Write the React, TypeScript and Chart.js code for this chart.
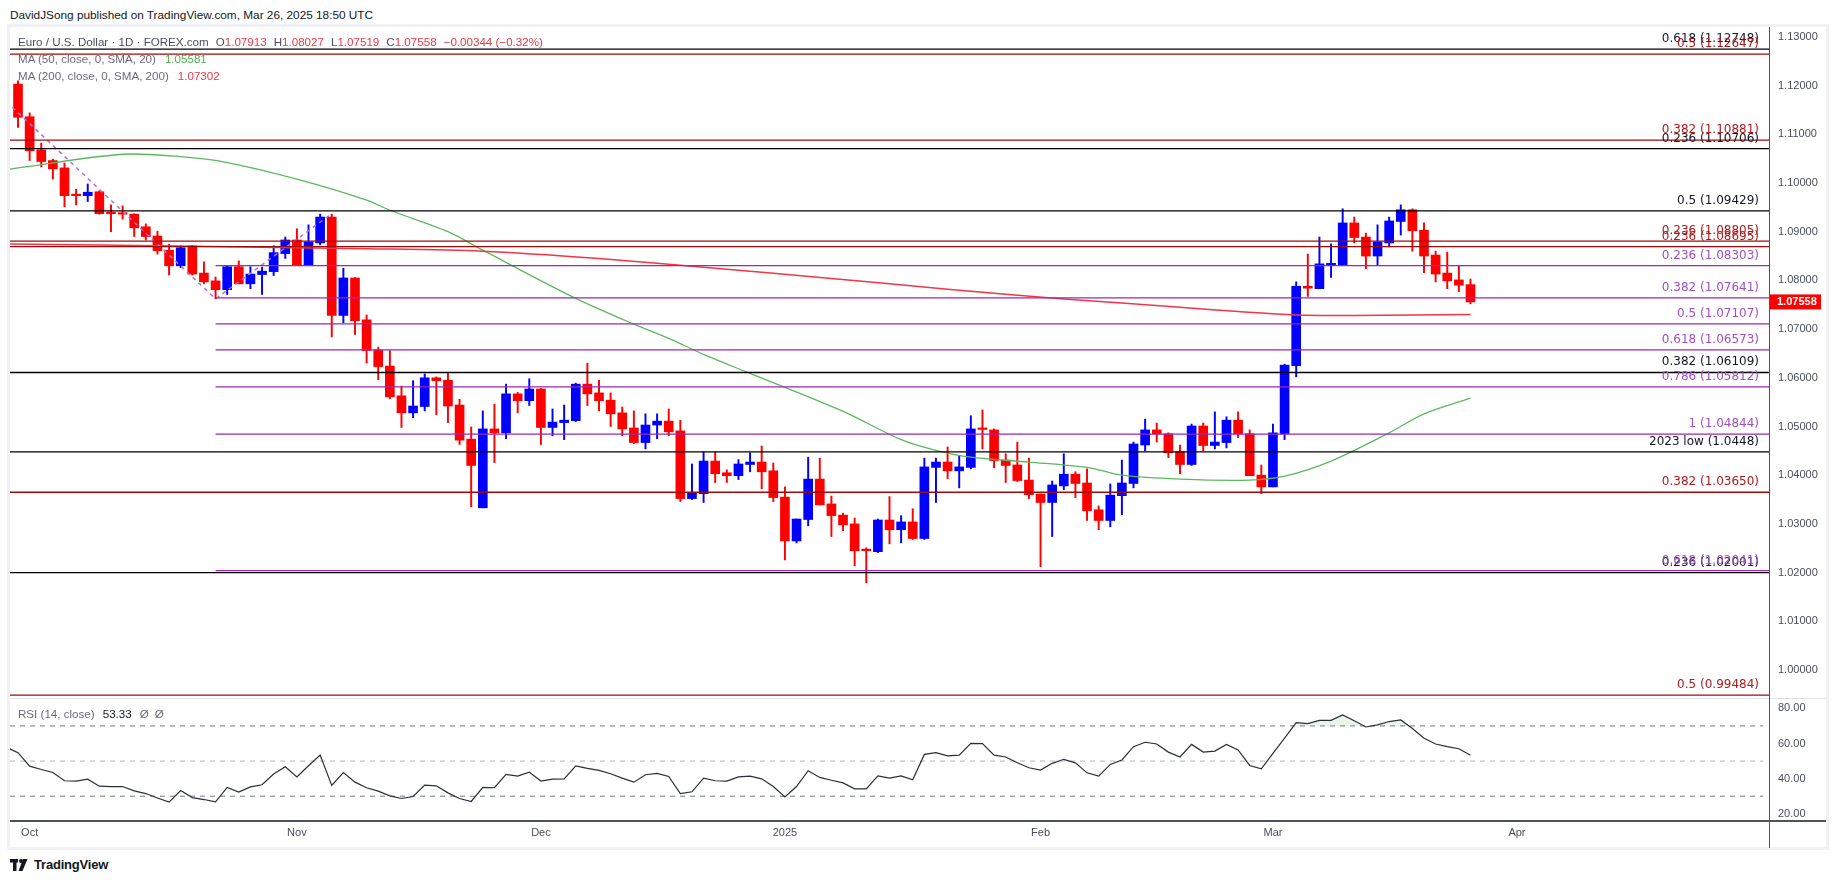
import React, { useEffect, useRef } from 'react';
import { Chart, registerables } from 'chart.js';

Chart.register(...registerables);

// ---------- data ----------
// bar index 0 = Sep 30 2024 ... 125 = Mar 26 2025 (trading days)
const opens = [1.1203,1.1136,1.1068,1.1046,1.1031,1.0976,1.0974,1.0982,1.0940,1.0939,
1.0936,1.0910,1.0891,1.0862,1.0830,1.0871,1.0815,1.0799,1.0781,1.0828,
1.0793,1.0812,1.0818,1.0855,1.0883,1.0832,1.0877,1.0930,1.0728,1.0805,
1.0719,1.0657,1.0624,1.0563,1.0528,1.0541,1.0600,1.0595,1.0544,1.0474,
1.0333,1.0495,1.0487,1.0567,1.0553,1.0577,1.0498,1.0508,1.0512,1.0587,
1.0569,1.0554,1.0528,1.0497,1.0467,1.0503,1.0511,1.0491,1.0352,1.0362,
1.0429,1.0405,1.0399,1.0422,1.0427,1.0409,1.0355,1.0265,1.0309,1.0392,
1.0341,1.0318,1.0300,1.0247,1.0243,1.0308,1.0288,1.0304,1.0270,1.0416,
1.0427,1.0409,1.0416,1.0496,1.0493,1.0431,1.0421,1.0390,1.0361,1.0344,
1.0378,1.0402,1.0384,1.0329,1.0307,1.0358,1.0383,1.0462,1.0493,1.0485,
1.0448,1.0422,1.0501,1.0461,1.0467,1.0513,1.0485,1.0400,1.0376,1.0485,
1.0625,1.0788,1.0783,1.0832,1.0832,1.0918,1.0889,1.0850,1.0877,1.0921,
1.0945,1.0903,1.0852,1.0815,1.0801,1.07913];

const highs = [1.1210,1.1144,1.1082,1.1049,1.1041,1.0987,1.0998,1.0984,1.0955,1.0953,
1.0937,1.0916,1.0901,1.0874,1.0871,1.0872,1.0838,1.0807,1.0830,1.0840,
1.0828,1.0827,1.0871,1.0889,1.0906,1.0914,1.0936,1.0936,1.0825,1.0806,
1.0729,1.0663,1.0656,1.0583,1.0594,1.0608,1.0602,1.0610,1.0556,1.0499,
1.0532,1.0546,1.0587,1.0570,1.0598,1.0578,1.0536,1.0544,1.0589,1.0630,
1.0595,1.0569,1.0540,1.0532,1.0526,1.0526,1.0536,1.0513,1.0423,1.0448,
1.0448,1.0411,1.0432,1.0446,1.0460,1.0425,1.0376,1.0310,1.0437,1.0435,
1.0357,1.0322,1.0312,1.0251,1.0310,1.0356,1.0317,1.0331,1.0435,1.0435,
1.0458,1.0439,1.0522,1.0534,1.0495,1.0444,1.0468,1.0435,1.0362,1.0388,
1.0444,1.0407,1.0413,1.0337,1.0382,1.0431,1.0468,1.0515,1.0507,1.0487,
1.0462,1.0505,1.0507,1.0530,1.0520,1.0530,1.0493,1.0421,1.0505,1.0628,
1.0797,1.0854,1.0889,1.0875,1.0947,1.0930,1.0897,1.0914,1.0930,1.0955,
1.0947,1.0918,1.0860,1.0858,1.0829,1.08027];

const lows = [1.1114,1.1046,1.1033,1.1008,1.0951,1.0955,1.0962,1.0936,1.0900,1.0926,
1.0890,1.0883,1.0854,1.0811,1.0826,1.0811,1.0793,1.0762,1.0771,1.0793,
1.0783,1.0771,1.0810,1.0845,1.0832,1.0832,1.0873,1.0684,1.0713,1.0689,
1.0630,1.0596,1.0557,1.0498,1.0518,1.0532,1.0524,1.0508,1.0463,1.0335,
1.0333,1.0426,1.0475,1.0528,1.0543,1.0463,1.0481,1.0473,1.0510,1.0543,
1.0532,1.0500,1.0481,1.0465,1.0454,1.0475,1.0481,1.0346,1.0350,1.0344,
1.0385,1.0385,1.0391,1.0407,1.0372,1.0346,1.0226,1.0261,1.0296,1.0339,
1.0274,1.0286,1.0214,1.0179,1.0241,1.0259,1.0261,1.0268,1.0268,1.0344,
1.0393,1.0374,1.0413,1.0454,1.0415,1.0385,1.0387,1.0352,1.0212,1.0274,
1.0370,1.0354,1.0307,1.0288,1.0294,1.0319,1.0374,1.0450,1.0468,1.0436,
1.0403,1.0420,1.0450,1.0454,1.0456,1.0477,1.0399,1.0362,1.0376,1.0473,
1.0602,1.0767,1.0783,1.0806,1.0832,1.0877,1.0824,1.0832,1.0869,1.0893,
1.0860,1.0816,1.0797,1.0783,1.0777,1.07519];

const closes = [1.1135,1.1066,1.1044,1.1029,1.0974,1.0974,1.0981,1.0937,1.0937,1.0936,
1.0908,1.0890,1.0861,1.0830,1.0867,1.0813,1.0797,1.0781,1.0828,1.0793,
1.0813,1.0819,1.0857,1.0883,1.0832,1.0879,1.0930,1.0728,1.0805,1.0717,
1.0656,1.0623,1.0561,1.0528,1.0542,1.0600,1.0594,1.0542,1.0472,1.0420,
1.0495,1.0487,1.0567,1.0553,1.0577,1.0498,1.0509,1.0513,1.0587,1.0567,
1.0553,1.0526,1.0495,1.0467,1.0503,1.0511,1.0489,1.0352,1.0364,1.0429,
1.0403,1.0399,1.0423,1.0427,1.0407,1.0354,1.0265,1.0310,1.0392,1.0339,
1.0317,1.0298,1.0245,1.0245,1.0308,1.0288,1.0304,1.0270,1.0417,1.0427,
1.0409,1.0417,1.0495,1.0494,1.0430,1.0420,1.0389,1.0360,1.0344,1.0380,
1.0402,1.0383,1.0327,1.0307,1.0359,1.0384,1.0464,1.0493,1.0485,1.0446,
1.0422,1.0501,1.0461,1.0468,1.0513,1.0485,1.0399,1.0376,1.0487,1.0626,
1.0788,1.0784,1.0834,1.0834,1.0918,1.0888,1.0850,1.0879,1.0922,1.0945,
1.0902,1.0850,1.0813,1.0799,1.07902,1.07558];

// RSI(14) values, first value belongs to bar index -1
const rsiStartIdx = -1;
const rsiValues = [57.8,54.8,47.1,45.2,43.5,38.8,38.6,39.7,35.7,35.5,35.5,
33.0,31.5,29.0,26.6,33.2,29.2,28.1,26.8,35.0,32.3,
35.3,36.5,42.6,46.8,41.0,47.3,53.4,36.1,43.5,38.0,
34.8,32.9,30.2,28.7,29.8,36.3,35.9,31.9,28.7,27.0,
35.0,34.8,42.4,41.4,43.7,38.6,39.7,39.9,47.3,45.8,
44.7,42.8,40.3,38.0,42.2,43.0,41.2,31.5,32.5,40.3,
38.8,38.6,41.0,41.4,39.9,35.5,29.6,35.5,44.5,40.7,
39.1,37.6,34.2,34.2,41.6,40.3,41.6,39.3,53.8,54.8,
53.0,53.4,60.1,59.9,53.4,52.3,49.0,46.2,44.9,48.7,
51.0,49.0,43.3,41.4,48.1,50.6,58.2,60.7,59.7,55.1,
52.3,59.5,55.1,55.7,59.5,56.3,47.5,45.6,54.4,63.1,
71.9,71.3,73.2,73.2,76.3,72.9,69.4,70.6,72.5,73.4,
68.5,63.0,59.7,58.2,57.0,53.33];

// Moving averages read at sample bars
const ma50Idx = [-1,0,9,14,18,24,30,32,37,40,48,53,56,59,63,71,76,79,82,87,92,95,100,106,109,113,118,121,125];
const ma50Vals = [1.1027,1.1031,1.1059,1.1054,1.1042,1.1008,1.0965,1.0944,1.0900,1.0862,1.0763,1.0710,1.0681,1.0648,1.0609,1.0531,1.0473,1.0451,1.0437,1.0427,1.0416,1.0400,1.0392,1.0390,1.0398,1.0429,1.0487,1.0526,1.05581];
const ma200Idx = [-1,15,30,40,50,60,70,80,90,100,105,110,115,120,125];
const ma200Vals = [1.0875,1.0870,1.0865,1.0860,1.0845,1.0825,1.0804,1.0782,1.0762,1.0745,1.0736,1.0729,1.0728,1.0729,1.07302];

// Dashed swing trend line (bar index, price)
const trendIdx = [-3, 17, 27];
const trendPrices = [1.1212, 1.0762, 1.0937];

// Fibonacci / key levels
const blackFibPrices = [1.12748, 1.10706, 1.09429, 1.06109, 1.0448, 1.02001];
const blackFibLabels = ['0.618 (1.12748)', '0.236 (1.10706)', '0.5 (1.09429)', '0.382 (1.06109)', '2023 low (1.0448)', '0.236 (1.02001)'];
const redFibPrices = [1.12647, 1.10881, 1.08805, 1.08695, 1.0365, 0.99484];
const redFibLabels = ['0.5 (1.12647)', '0.382 (1.10881)', '0.236 (1.08805)', '0.236 (1.08695)', '0.382 (1.03650)', '0.5 (0.99484)'];
const purpleFibPrices = [1.08303, 1.07641, 1.07107, 1.06573, 1.05812, 1.04844, 1.02041];
const purpleFibLabels = ['0.236 (1.08303)', '0.382 (1.07641)', '0.5 (1.07107)', '0.618 (1.06573)', '0.786 (1.05812)', '1 (1.04844)', '0.618 (1.02041)'];
const purpleStartIdx = 17;

// Axis ticks
const priceTicks = [1.00,1.01,1.02,1.03,1.04,1.05,1.06,1.07,1.08,1.09,1.10,1.11,1.12,1.13];
const rsiTicks = [20, 40, 60, 80];
const rsiLevels = [70, 50, 30];
const monthTickIdx = [1, 24, 45, 66, 88, 108, 129];
const monthTickLabels = ['Oct', 'Nov', 'Dec', '2025', 'Feb', 'Mar', 'Apr'];

// ---------- view constants ----------
const X_MIN = -0.69;
const X_MAX = 150.69;
const Y_MIN = 0.99425;
const Y_MAX = 1.13203;
const RSI_MIN = 16.45;
const RSI_MAX = 85.9;
const UP = '#0000ff';
const DOWN = '#ff0000';
const FONT = '"Liberation Sans", Arial, sans-serif';
const AXIS_TEXT = '#4a4e59';

Chart.defaults.font.family = FONT;

const last = closes.length - 1;
const change = closes[last] - closes[last - 1];
const changePct = (change / closes[last - 1]) * 100;
const fmtSigned = (v: number, d: number) => (v < 0 ? '\u2212' : '+') + Math.abs(v).toFixed(d);

export default function App() {
  const mainRef = useRef<HTMLCanvasElement>(null);
  const rsiRef = useRef<HTMLCanvasElement>(null);

  useEffect(() => {
    document.body.style.margin = '0';
    const colors = closes.map((c, i) => (c >= opens[i] ? UP : DOWN));
    const wickData = opens.map((_, i) => ({ x: i, y: [lows[i], highs[i]] }));
    const bodyData = opens.map((o, i) => ({ x: i, y: [Math.min(o, closes[i]), Math.max(o, closes[i])] }));

    const groups = [
      { prices: blackFibPrices, labels: blackFibLabels, line: '#000000', text: '#131722', start: X_MIN },
      { prices: redFibPrices, labels: redFibLabels, line: '#9e0b0b', text: '#b0191b', start: X_MIN },
      { prices: purpleFibPrices, labels: purpleFibLabels, line: '#9c27b0', text: '#a24fc4', start: purpleStartIdx },
    ];

    const fibDatasets: any[] = [];
    groups.forEach((g) => {
      g.prices.forEach((p) => {
        fibDatasets.push({
          type: 'line',
          data: [{ x: g.start, y: p }, { x: X_MAX, y: p }],
          borderColor: g.line,
          borderWidth: 1.3,
          pointRadius: 0,
          order: 1,
        });
      });
    });

    const fibLabelPlugin = {
      id: 'fibLabels',
      afterDatasetsDraw(chart: any) {
        const { ctx, chartArea, scales } = chart;
        ctx.save();
        ctx.font = '12px "DejaVu Sans", sans-serif';
        ctx.textAlign = 'right';
        ctx.textBaseline = 'alphabetic';
        groups.forEach((g) => {
          g.prices.forEach((p, i) => {
            ctx.fillStyle = g.text;
            ctx.fillText(g.labels[i], chartArea.right - 10, scales.y.getPixelForValue(p) - 7);
          });
        });
        ctx.restore();
      },
      afterDraw(chart: any) {
        const { ctx, chartArea, scales } = chart;
        const y = scales.y.getPixelForValue(closes[last]);
        ctx.save();
        ctx.fillStyle = '#ff0000';
        ctx.fillRect(chartArea.right + 1, y - 7.5, 51, 15);
        ctx.fillStyle = '#ffffff';
        ctx.font = 'bold 11px ' + FONT;
        ctx.textAlign = 'left';
        ctx.textBaseline = 'middle';
        ctx.fillText(closes[last].toFixed(5), chartArea.right + 8, y + 0.5);
        ctx.restore();
      },
    };

    const main = new Chart(mainRef.current as HTMLCanvasElement, {
      type: 'bar',
      data: {
        datasets: [
          {
            type: 'bar',
            data: wickData as any,
            backgroundColor: colors,
            barThickness: 1.3,
            grouped: false,
            order: 10,
          } as any,
          {
            type: 'bar',
            data: bodyData as any,
            backgroundColor: colors,
            barThickness: 9,
            minBarLength: 1.5,
            grouped: false,
            order: 9,
          } as any,
          {
            type: 'line',
            data: ma200Idx.map((x, i) => ({ x, y: ma200Vals[i] })),
            borderColor: '#f23645',
            borderWidth: 1.5,
            pointRadius: 0,
            tension: 0.3,
            order: 5,
          },
          {
            type: 'line',
            data: ma50Idx.map((x, i) => ({ x, y: ma50Vals[i] })),
            borderColor: '#5cb85f',
            borderWidth: 1.3,
            pointRadius: 0,
            tension: 0.3,
            order: 5,
          },
          {
            type: 'line',
            data: trendIdx.map((x, i) => ({ x, y: trendPrices[i] })),
            borderColor: '#b66fd3',
            borderWidth: 1.5,
            borderDash: [4, 4],
            pointRadius: 0,
            order: 2,
          },
          ...fibDatasets,
        ],
      },
      options: {
        animation: false,
        responsive: false,
        events: [],
        layout: { padding: { left: 10, top: 27, right: 0, bottom: 22 } },
        plugins: { legend: { display: false }, tooltip: { enabled: false } },
        scales: {
          x: {
            type: 'linear',
            min: X_MIN,
            max: X_MAX,
            offset: false,
            display: false,
          },
          y: {
            type: 'linear',
            position: 'right',
            min: Y_MIN,
            max: Y_MAX,
            grid: { display: false, drawTicks: false },
            border: { display: false },
            afterBuildTicks: (axis: any) => {
              axis.ticks = priceTicks.map((v) => ({ value: v }));
            },
            afterFit: (axis: any) => {
              axis.width = 66;
            },
            ticks: {
              autoSkip: false,
              padding: 9,
              color: AXIS_TEXT,
              font: { size: 11, family: FONT },
              callback: (v: any) => Number(v).toFixed(5),
            },
          },
        },
      } as any,
      plugins: [fibLabelPlugin],
    });

    const rsiPoints = rsiValues.map((v, i) => ({ x: rsiStartIdx + i, y: v }));
    const levelColors = ['#787b86', '#b2b5be', '#787b86'];

    const rsi = new Chart(rsiRef.current as HTMLCanvasElement, {
      type: 'line',
      data: {
        datasets: [
          {
            data: rsiPoints,
            borderColor: '#2a2e39',
            borderWidth: 1.2,
            pointRadius: 0,
            fill: { target: { value: 70 }, above: 'rgba(76,175,80,0.13)', below: 'rgba(0,0,0,0)' },
            order: 1,
          },
          ...rsiLevels.map((lv, i) => ({
            data: [{ x: X_MIN, y: lv }, { x: X_MAX - 0.5, y: lv }],
            borderColor: levelColors[i],
            borderWidth: 1,
            borderDash: [5, 5],
            pointRadius: 0,
            fill: false,
            order: 2,
          })),
        ],
      },
      options: {
        animation: false,
        responsive: false,
        events: [],
        layout: { padding: { left: 10, top: 20, right: 0, bottom: 0 } },
        plugins: { legend: { display: false }, tooltip: { enabled: false } },
        scales: {
          x: {
            type: 'linear',
            min: X_MIN,
            max: X_MAX,
            offset: false,
            grid: { display: false, drawTicks: false },
            border: { display: false },
            afterBuildTicks: (axis: any) => {
              axis.ticks = monthTickIdx.map((v) => ({ value: v }));
            },
            afterFit: (axis: any) => {
              axis.height = 30;
            },
            ticks: {
              autoSkip: false,
              maxRotation: 0,
              padding: 6,
              color: AXIS_TEXT,
              font: { size: 11, family: FONT },
              callback: (v: any) => {
                const k = monthTickIdx.indexOf(Number(v));
                return k >= 0 ? monthTickLabels[k] : '';
              },
            },
          },
          y: {
            type: 'linear',
            position: 'right',
            min: RSI_MIN,
            max: RSI_MAX,
            grid: { display: false, drawTicks: false },
            border: { display: false },
            afterBuildTicks: (axis: any) => {
              axis.ticks = rsiTicks.map((v) => ({ value: v }));
            },
            afterFit: (axis: any) => {
              axis.width = 66;
            },
            ticks: {
              autoSkip: false,
              padding: 9,
              color: AXIS_TEXT,
              font: { size: 11, family: FONT },
              callback: (v: any) => Number(v).toFixed(2),
            },
          },
        },
      } as any,
    });

    return () => {
      main.destroy();
      rsi.destroy();
    };
  }, []);

  const red = '#f23645';
  const legendStyle: React.CSSProperties = {
    position: 'absolute',
    left: 18,
    fontFamily: FONT,
    fontSize: 11.6,
    lineHeight: '14px',
    whiteSpace: 'nowrap',
  };

  return (
    <div style={{ position: 'absolute', left: 0, top: 0, width: 1835, height: 883, background: '#ffffff', overflow: 'hidden' }}>
      <div style={{ position: 'absolute', left: 10, top: 8, fontFamily: FONT, fontSize: 11.8, lineHeight: '14px', color: '#131722', whiteSpace: 'nowrap' }}>
        DavidJSong published on TradingView.com, Mar 26, 2025 18:50 UTC
      </div>
      <div style={{ position: 'absolute', left: 7, top: 24, width: 1822, height: 826, boxSizing: 'border-box', border: '3px solid #eff1f5' }} />
      <canvas ref={mainRef} width={1835} height={720} style={{ position: 'absolute', left: 0, top: 0 }} />
      <canvas ref={rsiRef} width={1835} height={172} style={{ position: 'absolute', left: 0, top: 678 }} />
      <div style={{ position: 'absolute', left: 10, top: 698, width: 1816, height: 1, background: '#e0e3eb' }} />
      <div style={{ position: 'absolute', left: 10, top: 820, width: 1816, height: 1.5, background: '#50535e' }} />
      <div style={{ position: 'absolute', left: 1768.5, top: 27, width: 1, height: 821, background: '#50535e' }} />

      <div style={{ ...legendStyle, top: 35, color: '#4b4f5a' }}>
        Euro / U.S. Dollar · 1D · FOREX.com
        <span style={{ marginLeft: 7 }}>O</span><span style={{ color: red }}>{opens[last].toFixed(5)}</span>
        <span style={{ marginLeft: 7 }}>H</span><span style={{ color: red }}>{highs[last].toFixed(5)}</span>
        <span style={{ marginLeft: 7 }}>L</span><span style={{ color: red }}>{lows[last].toFixed(5)}</span>
        <span style={{ marginLeft: 7 }}>C</span><span style={{ color: red }}>{closes[last].toFixed(5)}</span>
        <span style={{ marginLeft: 7, color: red }}>{fmtSigned(change, 5)} ({fmtSigned(changePct, 2)}%)</span>
      </div>
      <div style={{ ...legendStyle, top: 52, color: '#6a6d78' }}>
        MA (50, close, 0, SMA, 20)<span style={{ marginLeft: 9, color: '#4caf50' }}>{ma50Vals[ma50Vals.length - 1].toFixed(5)}</span>
      </div>
      <div style={{ ...legendStyle, top: 69, color: '#6a6d78' }}>
        MA (200, close, 0, SMA, 200)<span style={{ marginLeft: 9, color: red }}>{ma200Vals[ma200Vals.length - 1].toFixed(5)}</span>
      </div>
      <div style={{ ...legendStyle, top: 707, color: '#6a6d78' }}>
        RSI (14, close)<span style={{ marginLeft: 8, color: '#131722' }}>{rsiValues[rsiValues.length - 1].toFixed(2)}</span>
        <span style={{ marginLeft: 8 }}>Ø</span><span style={{ marginLeft: 6 }}>Ø</span>
      </div>

      <div style={{ position: 'absolute', left: 10, top: 857, display: 'flex', alignItems: 'center', gap: 4 }}>
        <svg width="20" height="12" viewBox="0 0 20 12">
          <rect x="0" y="0" width="8" height="3.5" fill="#131722" />
          <rect x="3" y="0" width="3.5" height="12" fill="#131722" />
          <circle cx="11" cy="2" r="2" fill="#131722" />
          <polygon points="13,0 17.5,0 12.5,12 8.5,12" fill="#131722" />
        </svg>
        <span style={{ fontFamily: FONT, fontSize: 13, fontWeight: 600, color: '#131722', letterSpacing: -0.2 }}>TradingView</span>
      </div>
    </div>
  );
}
